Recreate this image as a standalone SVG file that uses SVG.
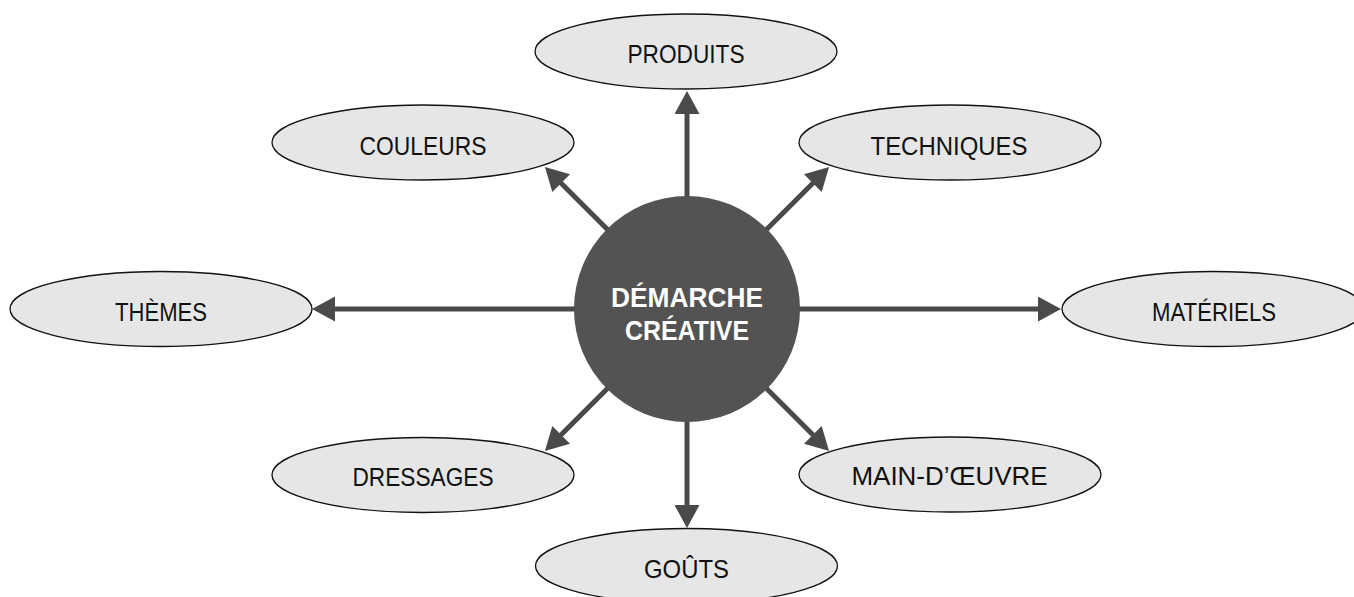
<svg xmlns="http://www.w3.org/2000/svg" width="1354" height="597" viewBox="0 0 1354 597">
  <defs>
    <marker id="head" markerUnits="userSpaceOnUse" viewBox="0 0 23 25" refX="11" refY="12.5" markerWidth="23" markerHeight="25" orient="auto">
      <path d="M0,0 L23,12.5 L0,25 Z" fill="#4a4a4a"/>
    </marker>
    <style>
      .link { stroke: #4a4a4a; stroke-width: 5; fill: none; marker-end: url(#head); }
      .topic { fill: #e6e6e6; stroke: #111; stroke-width: 1.3; }
      .label { font-family: "Liberation Sans", Arial, sans-serif; font-size: 26px; fill: #111; text-anchor: middle; }
      .hub { fill: #535353; }
      .hub-label { font-family: "Liberation Sans", Arial, sans-serif; font-size: 28px; font-weight: bold; fill: #fff; text-anchor: middle; }
    </style>
  </defs>
  <rect width="1354" height="597" fill="#fff"/>

  <!-- spokes from the hub to each topic -->
  <g id="connectors">
    <line class="link" x1="687" y1="309" x2="687" y2="103"/>
    <line class="link" x1="687" y1="309" x2="687" y2="516"/>
    <line class="link" x1="687" y1="309" x2="324" y2="309"/>
    <line class="link" x1="687" y1="309" x2="1049" y2="309"/>
    <line class="link" x1="687" y1="309" x2="553.4" y2="175.4"/>
    <line class="link" x1="687" y1="309" x2="820.6" y2="175.4"/>
    <line class="link" x1="687" y1="309" x2="553.4" y2="442.6"/>
    <line class="link" x1="687" y1="309" x2="820.6" y2="442.6"/>
  </g>

  <g id="hub">
    <circle class="hub" cx="687" cy="309" r="113"/>
    <text class="hub-label" x="687" y="307" textLength="152" lengthAdjust="spacingAndGlyphs">DÉMARCHE</text>
    <text class="hub-label" x="687" y="340" textLength="124" lengthAdjust="spacingAndGlyphs">CRÉATIVE</text>
  </g>

  <g id="produits">
    <ellipse class="topic" cx="686" cy="51.5" rx="151" ry="37.5"/>
    <text class="label" x="686" y="63" textLength="117" lengthAdjust="spacingAndGlyphs">PRODUITS</text>
  </g>

  <g id="couleurs">
    <ellipse class="topic" cx="423" cy="142.5" rx="151" ry="37.5"/>
    <text class="label" x="423" y="155" textLength="127" lengthAdjust="spacingAndGlyphs">COULEURS</text>
  </g>

  <g id="techniques">
    <ellipse class="topic" cx="950" cy="142.5" rx="151" ry="37.5"/>
    <text class="label" x="949" y="155" textLength="157" lengthAdjust="spacingAndGlyphs">TECHNIQUES</text>
  </g>

  <g id="themes">
    <ellipse class="topic" cx="161" cy="309" rx="151" ry="37.5"/>
    <text class="label" x="161" y="321" textLength="92" lengthAdjust="spacingAndGlyphs">THÈMES</text>
  </g>

  <g id="materiels">
    <ellipse class="topic" cx="1213" cy="309" rx="151" ry="37.5"/>
    <text class="label" x="1214" y="321" textLength="124" lengthAdjust="spacingAndGlyphs">MATÉRIELS</text>
  </g>

  <g id="dressages">
    <ellipse class="topic" cx="423" cy="475" rx="151" ry="37.5"/>
    <text class="label" x="423" y="486" textLength="141" lengthAdjust="spacingAndGlyphs">DRESSAGES</text>
  </g>

  <g id="main-doeuvre">
    <ellipse class="topic" cx="950" cy="474.5" rx="151" ry="37.5"/>
    <text class="label" x="949.5" y="485" textLength="196" lengthAdjust="spacingAndGlyphs">MAIN-D’ŒUVRE</text>
  </g>

  <g id="gouts">
    <ellipse class="topic" cx="686.5" cy="566" rx="151" ry="37.5"/>
    <text class="label" x="686.5" y="578" textLength="85" lengthAdjust="spacingAndGlyphs">GOÛTS</text>
  </g>
</svg>
